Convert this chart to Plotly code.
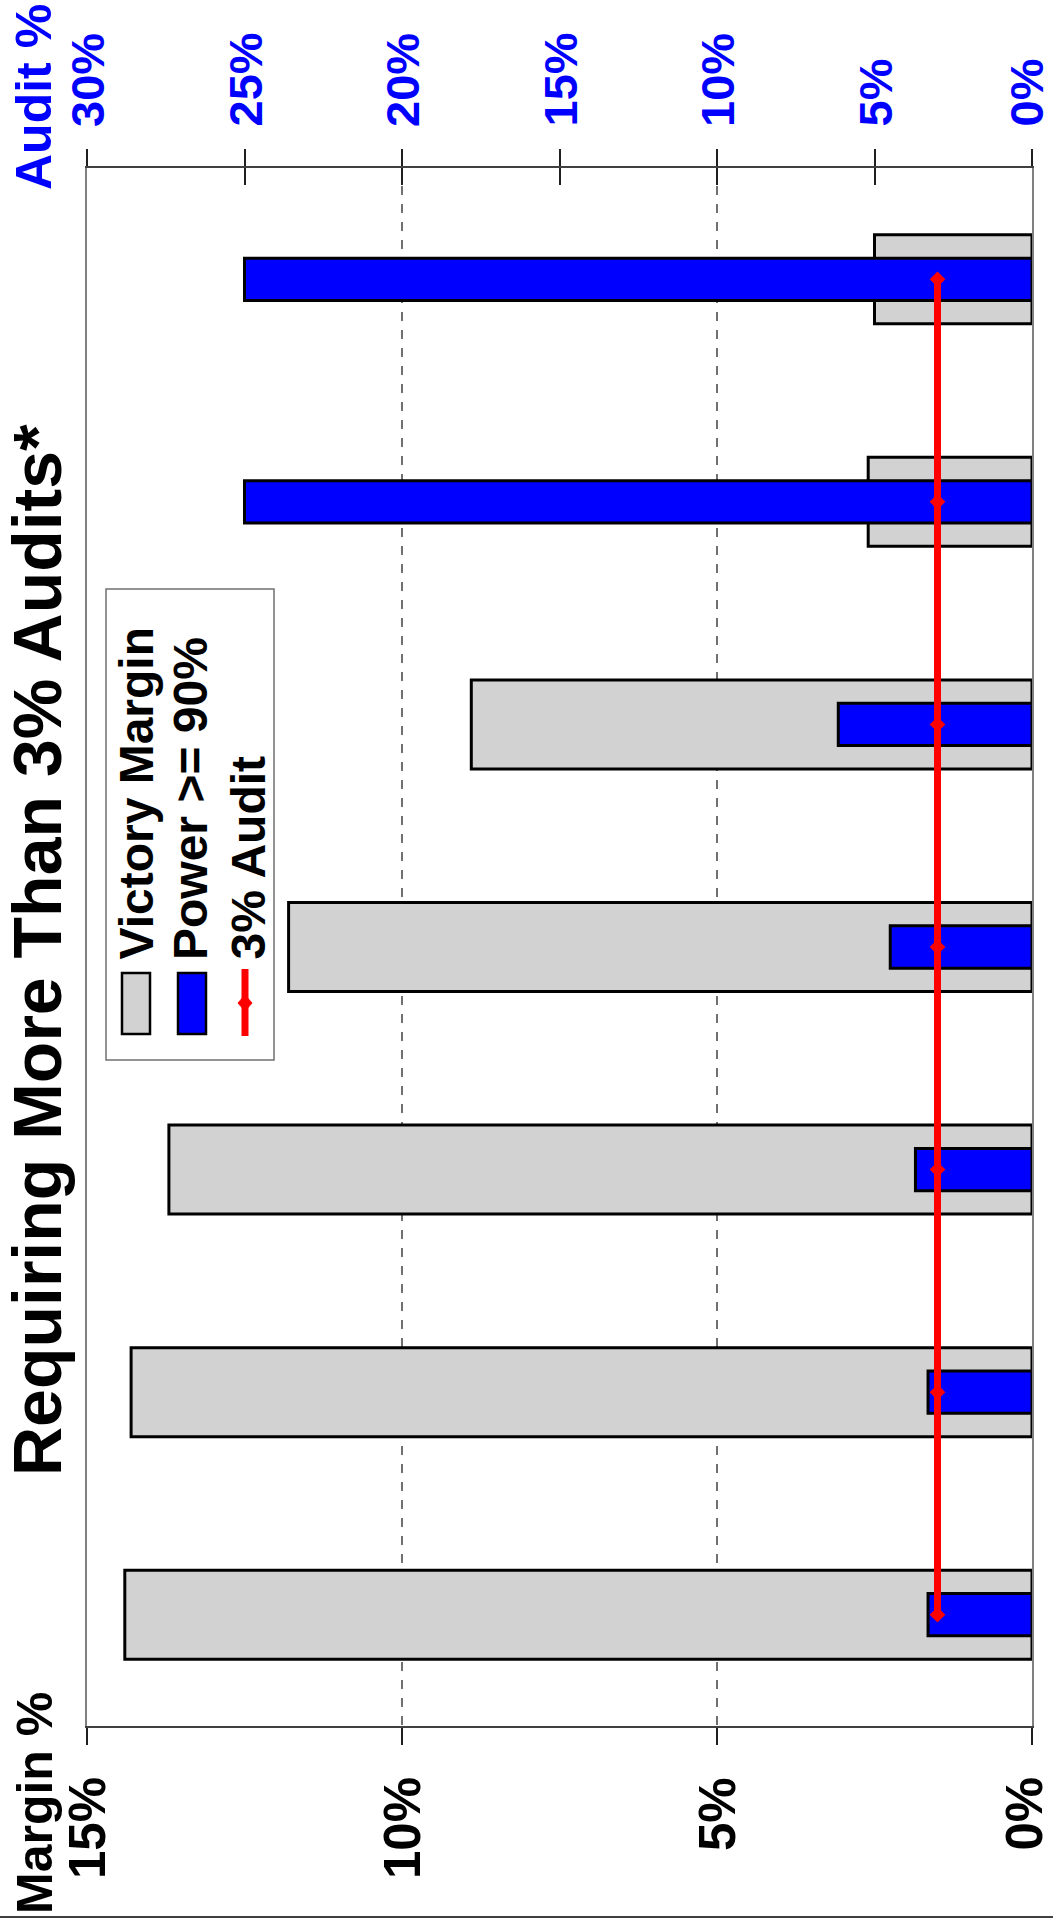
import plotly.graph_objects as go

# ---------------- data ----------------
categories = ["Group 1", "Group 2", "Group 3", "Group 4", "Group 5", "Group 6", "Group 7"]
victory_margin = [14.4, 14.3, 13.7, 11.8, 8.9, 2.6, 2.5]      # Margin %
power_audit = [3.3, 3.3, 3.7, 4.5, 6.15, 25.0, 25.0]          # Audit % for power >= 90%
audit_3pct = [3, 3, 3, 3, 3, 3, 3]                            # 3% audit reference

margin_ticks = [0, 5, 10, 15]
margin_tick_labels = ["0%", "5%", "10%", "15%"]
audit_ticks = [0, 5, 10, 15, 20, 25, 30]
audit_tick_labels = ["0%", "5%", "10%", "15%", "20%", "25%", "30%"]

title_text = "Requiring More Than 3% Audits*"
legend_names = ["Victory Margin", "Power >= 90%", "3% Audit"]

# ---------------- geometry ----------------
W, H = 1053, 1923
L, R, T, B = 87, 1032, 168, 1726
FONT = "Liberation Sans, Arial, sans-serif"


def px(x):
    return (x - L) / (R - L)


def py(y):
    return (B - y) / (B - T)


GRAY = "#d2d2d2"
BLUE = "#0000ff"
RED = "#ff0000"

fig = go.Figure()
fig.add_trace(go.Bar(
    y=categories, x=victory_margin, orientation="h", xaxis="x", yaxis="y",
    width=0.4, name=legend_names[0], showlegend=False,
    marker=dict(color=GRAY, line=dict(color="black", width=3)),
))
fig.add_trace(go.Bar(
    y=categories, x=power_audit, orientation="h", xaxis="x2", yaxis="y",
    width=0.19, name=legend_names[1], showlegend=False,
    marker=dict(color=BLUE, line=dict(color="black", width=3)),
))
fig.add_trace(go.Scatter(
    y=categories, x=audit_3pct, xaxis="x3", yaxis="y", mode="lines+markers",
    name=legend_names[2], showlegend=False,
    line=dict(color=RED, width=7),
    marker=dict(symbol="diamond", size=12, color=RED),
))

fig.update_layout(
    width=W, height=H,
    margin=dict(l=L, r=W - R, t=T, b=H - B, pad=0),
    paper_bgcolor="white", plot_bgcolor="white",
    barmode="overlay", showlegend=False,
    xaxis=dict(
        domain=[0, 1], anchor="y", range=[15, 0], side="bottom",
        tickmode="array", tickvals=margin_ticks, showticklabels=False,
        ticks="outside", ticklen=17, tickwidth=1.5, tickcolor="#202020",
        showline=True, linecolor="#404040", linewidth=2,
        showgrid=True, gridcolor="#707070", griddash="dash", gridwidth=1.5,
        zeroline=False, fixedrange=True,
    ),
    xaxis2=dict(
        overlaying="x", anchor="y", range=[30, 0], side="top",
        tickmode="array", tickvals=audit_ticks, showticklabels=False,
        ticks="outside", ticklen=17, tickwidth=1.5, tickcolor="#202020",
        showline=True, linecolor="#404040", linewidth=2,
        showgrid=False, zeroline=False,
    ),
    xaxis3=dict(
        overlaying="x", anchor="y", range=[30, 0], side="top",
        tickmode="array", tickvals=audit_ticks, showticklabels=False,
        ticks="inside", ticklen=17, tickwidth=1.5, tickcolor="#202020",
        showline=False, showgrid=False, zeroline=False,
    ),
    yaxis=dict(
        domain=[0, 1], anchor="x", range=[-0.5, 6.5],
        categoryorder="array", categoryarray=categories,
        showticklabels=False, ticks="",
        showline=True, mirror=True, linecolor="#808080", linewidth=2,
        showgrid=False, zeroline=False,
    ),
)

anns = []
# Rotated tick labels, placed on the axes' own scales
for v, lab in zip(margin_ticks, margin_tick_labels):
    edge = (v == margin_ticks[0])
    anns.append(dict(text=lab, x=v, xref="x", y=py(1776), yref="paper",
                     xanchor="right" if edge else "center", xshift=(W - R) if edge else 0,
                     yanchor="top", textangle=-90, showarrow=False, borderpad=0,
                     font=dict(family=FONT, size=51, color="black", weight="bold")))
for v, lab in zip(audit_ticks, audit_tick_labels):
    edge = (v == audit_ticks[0])
    anns.append(dict(text=lab, x=v, xref="x2", y=py(128), yref="paper",
                     xanchor="right" if edge else "center", xshift=(W - R) if edge else 0,
                     yanchor="bottom", textangle=-90, showarrow=False, borderpad=0,
                     font=dict(family=FONT, size=47, color=BLUE, weight="bold")))
# Title
anns.append(dict(text=title_text, x=px(37), y=py(950), xref="paper", yref="paper",
                 xanchor="center", yanchor="middle", textangle=-90, showarrow=False,
                 font=dict(family=FONT, size=68, color="black", weight="bold")))
# Axis labels
anns.append(dict(text="Margin %", x=px(35), y=py(1916), xref="paper", yref="paper",
                 xanchor="center", yanchor="bottom", textangle=-90, showarrow=False,
                 font=dict(family=FONT, size=50, color="black", weight="bold")))
anns.append(dict(text="Audit %", x=px(34), y=py(192), xref="paper", yref="paper",
                 xanchor="center", yanchor="bottom", textangle=-90, showarrow=False,
                 font=dict(family=FONT, size=50, color=BLUE, weight="bold")))
# Legend texts
for name, cx in zip(legend_names, [136, 190.5, 247.5]):
    anns.append(dict(text=name, x=px(cx), y=py(962), xref="paper", yref="paper",
                     xanchor="center", yanchor="bottom", textangle=-90, showarrow=False,
                     font=dict(family=FONT, size=48, color="black", weight="bold")))

shapes = []
# legend box
shapes.append(dict(type="rect", xref="paper", yref="paper",
                   x0=px(106), x1=px(274), y0=py(1060), y1=py(589),
                   line=dict(color="#707070", width=1.5), fillcolor="white", layer="above"))
# swatches
shapes.append(dict(type="rect", xref="paper", yref="paper",
                   x0=px(122), x1=px(150), y0=py(1034), y1=py(973),
                   line=dict(color="black", width=2.5), fillcolor=GRAY, layer="above"))
shapes.append(dict(type="rect", xref="paper", yref="paper",
                   x0=px(178), x1=px(206), y0=py(1034), y1=py(973),
                   line=dict(color="black", width=2.5), fillcolor=BLUE, layer="above"))
shapes.append(dict(type="line", xref="paper", yref="paper",
                   x0=px(245), x1=px(245), y0=py(1036), y1=py(969),
                   line=dict(color=RED, width=7), layer="above"))
dx, dy = 7, 8
shapes.append(dict(type="path", xref="paper", yref="paper", layer="above",
                   path=(f"M {px(245 - dx)},{py(1003)} L {px(245)},{py(1003 - dy)} "
                         f"L {px(245 + dx)},{py(1003)} L {px(245)},{py(1003 + dy)} Z"),
                   fillcolor=RED, line=dict(color=RED, width=1)))
# bottom rule of page
shapes.append(dict(type="line", xref="paper", yref="paper",
                   x0=px(0), x1=px(W), y0=py(1917), y1=py(1917),
                   line=dict(color="#404040", width=2)))

fig.update_layout(annotations=anns, shapes=shapes)

page_js = (
    "document.documentElement.style.margin='0';"
    "document.body.style.margin='0';"
    "document.body.style.overflow='hidden';"
    "var gd=document.getElementById('{plot_id}');"
    "gd.style.overflow='hidden';"
)
fig.write_html("out.html", post_script=page_js, config={"displayModeBar": False})
